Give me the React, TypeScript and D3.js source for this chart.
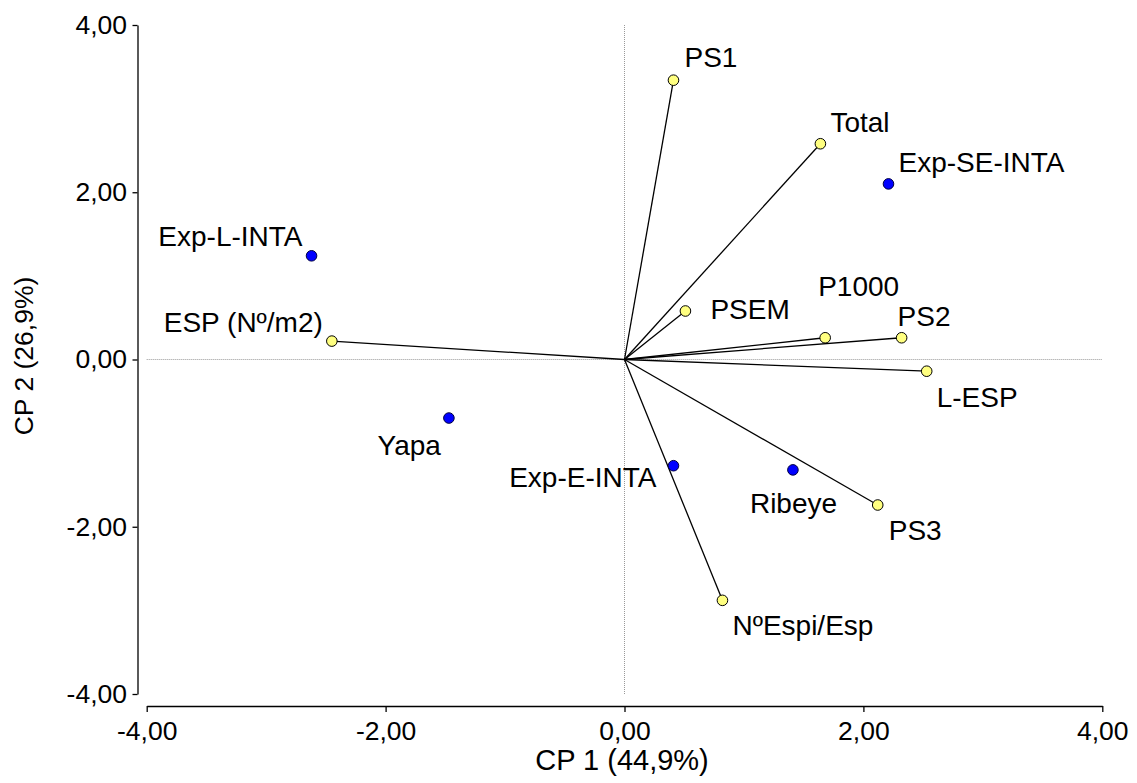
import * as d3 from 'd3';
import React, { useEffect, useRef } from 'react';

// variables (vectors drawn from origin)
const varNames = ['PS1', 'Total', 'PSEM', 'P1000', 'PS2', 'L-ESP', 'PS3', 'NºEspi/Esp', 'ESP (Nº/m2)'];
const varX = [0.41, 1.64, 0.51, 1.68, 2.32, 2.53, 2.12, 0.82, -2.45];
const varY = [3.34, 2.58, 0.58, 0.26, 0.26, -0.14, -1.74, -2.88, 0.22];

// cultivars (blue points)
const obsNames = ['Exp-SE-INTA', 'Exp-L-INTA', 'Yapa', 'Exp-E-INTA', 'Ribeye'];
const obsX = [2.21, -2.62, -1.47, 0.41, 1.41];
const obsY = [2.10, 1.24, -0.70, -1.27, -1.32];

const tickValues = [-4, -2, 0, 2, 4];
const xTitle = 'CP 1 (44,9%)';
const yTitle = 'CP 2 (26,9%)';

// label placement: [dx, dy, anchor]
const labelPos: Record<string, [number, number, string]> = {
    'PS1': [11, -13, 'start'],
    'Total': [10, -12, 'start'],
    'Exp-SE-INTA': [10, -12, 'start'],
    'Exp-L-INTA': [-9, -10, 'end'],
    'ESP (Nº/m2)': [-9, -9, 'end'],
    'PSEM': [25, 8, 'start'],
    'P1000': [-7, -42, 'start'],
    'PS2': [-4, -12, 'start'],
    'L-ESP': [10, 36, 'start'],
    'Yapa': [-8, 37, 'end'],
    'Exp-E-INTA': [-17, 21, 'end'],
    'Ribeye': [-43, 43, 'start'],
    'PS3': [11, 35, 'start'],
    'NºEspi/Esp': [10, 35, 'start'],
};

const fmt = (v: number) => v.toFixed(2).replace('.', ',');

const Chart = () => {
    const ref = useRef<SVGSVGElement>(null);

    useEffect(() => {
        const width = 1137;
        const height = 783;
        const font = 'Liberation Sans, Arial, sans-serif';

        const svg = d3.select(ref.current);
        svg.selectAll('*').remove();
        svg.attr('width', width).attr('height', height);

        const x = d3.scaleLinear().domain([-4, 4]).range([146.7, 1102.3]);
        const y = d3.scaleLinear().domain([-4, 4]).range([694, 25]);
        const yAxisX = 137.5;
        const xAxisY = 706;

        // reference lines through origin
        svg.append('line')
            .attr('x1', x(0)).attr('x2', x(0))
            .attr('y1', y(4)).attr('y2', y(-4))
            .attr('stroke', '#999').attr('stroke-dasharray', '1,1');
        svg.append('line')
            .attr('x1', x(-4)).attr('x2', x(4))
            .attr('y1', y(0)).attr('y2', y(0))
            .attr('stroke', '#999').attr('stroke-dasharray', '1,1');

        // y axis
        const ya = svg.append('g')
            .attr('transform', `translate(${yAxisX},0)`)
            .call(d3.axisLeft(y).tickValues(tickValues).tickFormat(d => fmt(+d)).tickSize(5).tickSizeOuter(0).tickPadding(5.5));
        ya.select('.domain').attr('stroke', '#000').attr('stroke-width', 1.3);
        ya.selectAll('line').attr('stroke-width', 1.3);
        ya.selectAll('text').attr('font-family', font).attr('font-size', 26.5).attr('fill', '#000');

        // x axis
        const xa = svg.append('g')
            .attr('transform', `translate(0,${xAxisY})`)
            .call(d3.axisBottom(x).tickValues(tickValues).tickFormat(d => fmt(+d)).tickSize(6).tickSizeOuter(0).tickPadding(9.5));
        xa.select('.domain').attr('stroke', '#000').attr('stroke-width', 1.3);
        xa.selectAll('line').attr('stroke-width', 1.3);
        xa.selectAll('text').attr('font-family', font).attr('font-size', 26.5).attr('fill', '#000');

        // axis titles
        svg.append('text')
            .attr('x', 622).attr('y', 770)
            .attr('text-anchor', 'middle')
            .attr('font-family', font).attr('font-size', 29)
            .text(xTitle);
        svg.append('text')
            .attr('transform', `translate(33,356) rotate(-90)`)
            .attr('text-anchor', 'middle')
            .attr('font-family', font).attr('font-size', 26.5)
            .text(yTitle);

        const vars = varNames.map((name, i) => ({ name, x: varX[i], y: varY[i] }));
        const obs = obsNames.map((name, i) => ({ name, x: obsX[i], y: obsY[i] }));

        // vectors
        svg.selectAll('.vec')
            .data(vars)
            .enter().append('line')
            .attr('x1', x(0)).attr('y1', y(0))
            .attr('x2', d => x(d.x)).attr('y2', d => y(d.y))
            .attr('stroke', '#000').attr('stroke-width', 1.3);

        svg.selectAll('.vpt')
            .data(vars)
            .enter().append('circle')
            .attr('cx', d => x(d.x)).attr('cy', d => y(d.y))
            .attr('r', 5.3)
            .attr('fill', '#ffff80').attr('stroke', '#000').attr('stroke-width', 1);

        svg.selectAll('.opt')
            .data(obs)
            .enter().append('circle')
            .attr('cx', d => x(d.x)).attr('cy', d => y(d.y))
            .attr('r', 5.3)
            .attr('fill', '#0000ff').attr('stroke', '#000040').attr('stroke-width', 1);

        // labels
        svg.selectAll('.lbl')
            .data([...vars, ...obs])
            .enter().append('text')
            .attr('x', d => x(d.x) + labelPos[d.name][0])
            .attr('y', d => y(d.y) + labelPos[d.name][1])
            .attr('text-anchor', d => labelPos[d.name][2])
            .attr('font-family', font).attr('font-size', 28)
            .attr('fill', '#000')
            .text(d => d.name);
    }, []);

    return <svg ref={ref} style={{ position: 'absolute', left: 0, top: 0 }}></svg>;
};

export default function App() {
    return <Chart />;
}
